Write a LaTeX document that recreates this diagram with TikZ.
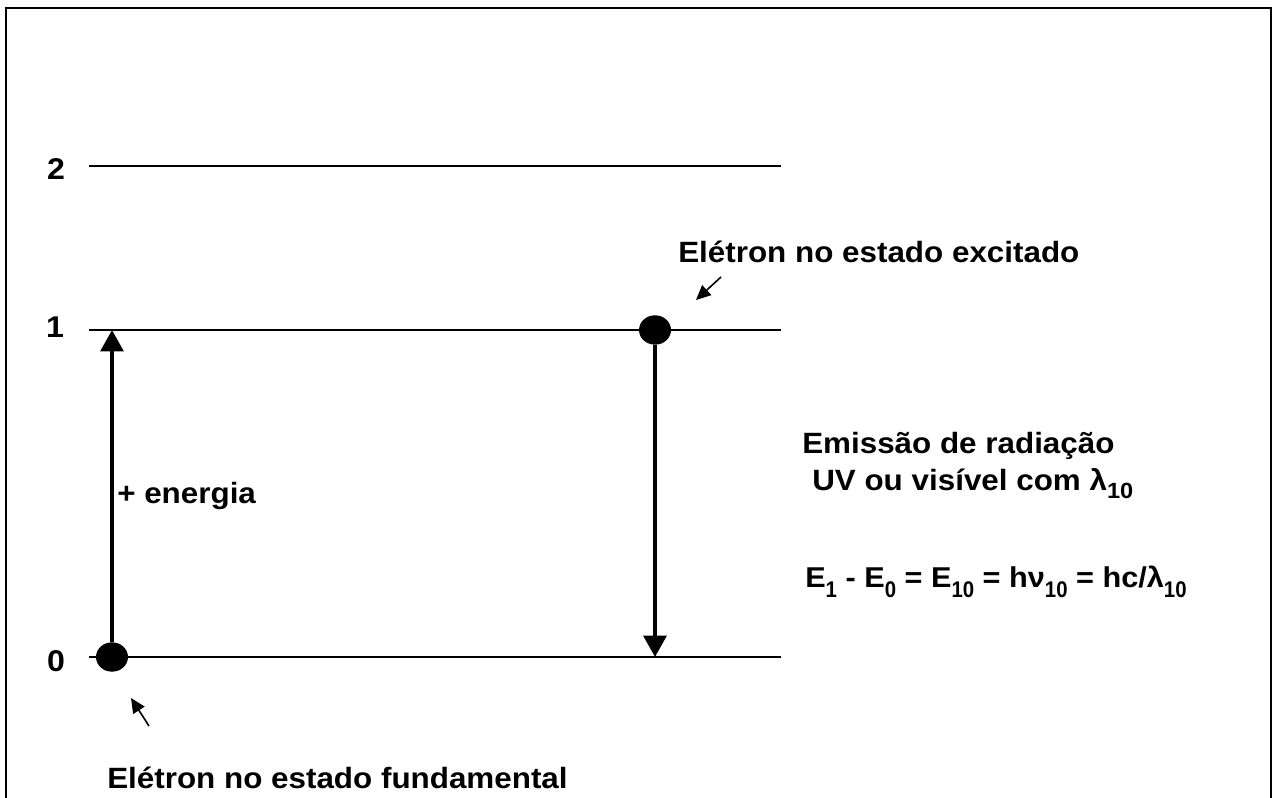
\documentclass[tikz,border=0pt]{standalone}
\usepackage{fontspec}
\setmainfont{Liberation Sans}[FakeStretch=1.07]
\usetikzlibrary{arrows.meta,shapes.geometric}
\newcommand\eqsub[1]{\raisebox{-7.5pt}{\fontsize{17}{17}\selectfont\scalebox{0.84}[1]{#1}}}
\newcommand\uvsub[1]{\raisebox{-6pt}{\fontsize{16.5}{16.5}\selectfont #1}}
\begin{document}
\begin{tikzpicture}[x=0.75pt,y=-0.75pt,
  level/.style={line width=1.2pt},
  lab/.style={font=\fontsize{22}{26}\selectfont\bfseries, inner sep=0pt, anchor=base west},
  eqlab/.style={font=\fontsize{21.5}{25}\selectfont\bfseries, inner sep=0pt, anchor=base west},
  num/.style={font=\fontsize{22.5}{26}\selectfont\bfseries, inner sep=0pt, anchor=base},
  electron/.style={ellipse, fill=black, minimum width=24pt, minimum height=22pt, inner sep=0pt},
  bigarrow/.style={line width=3pt, -{Triangle[width=17pt,length=16pt]}},
  smallarrow/.style={line width=1.2pt, -{Triangle[width=10pt,length=11pt]}}
]
\useasboundingbox (0,0) rectangle (1274,798);
\draw[line width=1.8pt] (6,812) -- (6,8) -- (1271,8) -- (1271,812);
% levels
\coordinate (L2a) at (89,166); \coordinate (L2b) at (781,166);
\coordinate (L1a) at (89,330); \coordinate (L1b) at (781,330);
\coordinate (L0a) at (89,657); \coordinate (L0b) at (781,657);
\draw[level] (L2a) -- (L2b);
\draw[level] (L1a) -- (L1b);
\draw[level] (L0a) -- (L0b);
\node[num] (n2) at (56,180) {2};
\node[num] (n1) at (55,338) {1};
\node[num] (n0) at (56,671) {0};
% electrons
\node[electron] (e0) at (112,657) {};
\node[electron] (e1) at (655,330) {};
\coordinate (t1) at (112,330);
\coordinate (t0) at (655,657);
\draw[bigarrow] (e0.north) -- (t1);
\draw[bigarrow] (e1.south) -- (t0);
% pointer arrows
\coordinate (a1s) at (721,277); \coordinate (a1e) at (696,300);
\coordinate (a2s) at (149,726); \coordinate (a2e) at (131,698);
\draw[smallarrow] (a1s) -- (a1e);
\draw[smallarrow] (a2s) -- (a2e);
% texts
\node[lab] (exc) at (678,263) {Elétron no estado excitado};
\node[lab] (fund) at (107,788) {Elétron no estado fundamental};
\node[lab] (en) at (117,503) {+ energia};
\node[lab] (em1) at (802,453) {Emissão de radiação};
\node[lab] (em2) at (812,490) {UV ou visível com λ\uvsub{10}};
\node[eqlab] (eq) at (805,587) {E\eqsub{1} - E\eqsub{0} = E\eqsub{10} = hν\eqsub{10} = hc/λ\eqsub{10}};
\end{tikzpicture}
\end{document}
